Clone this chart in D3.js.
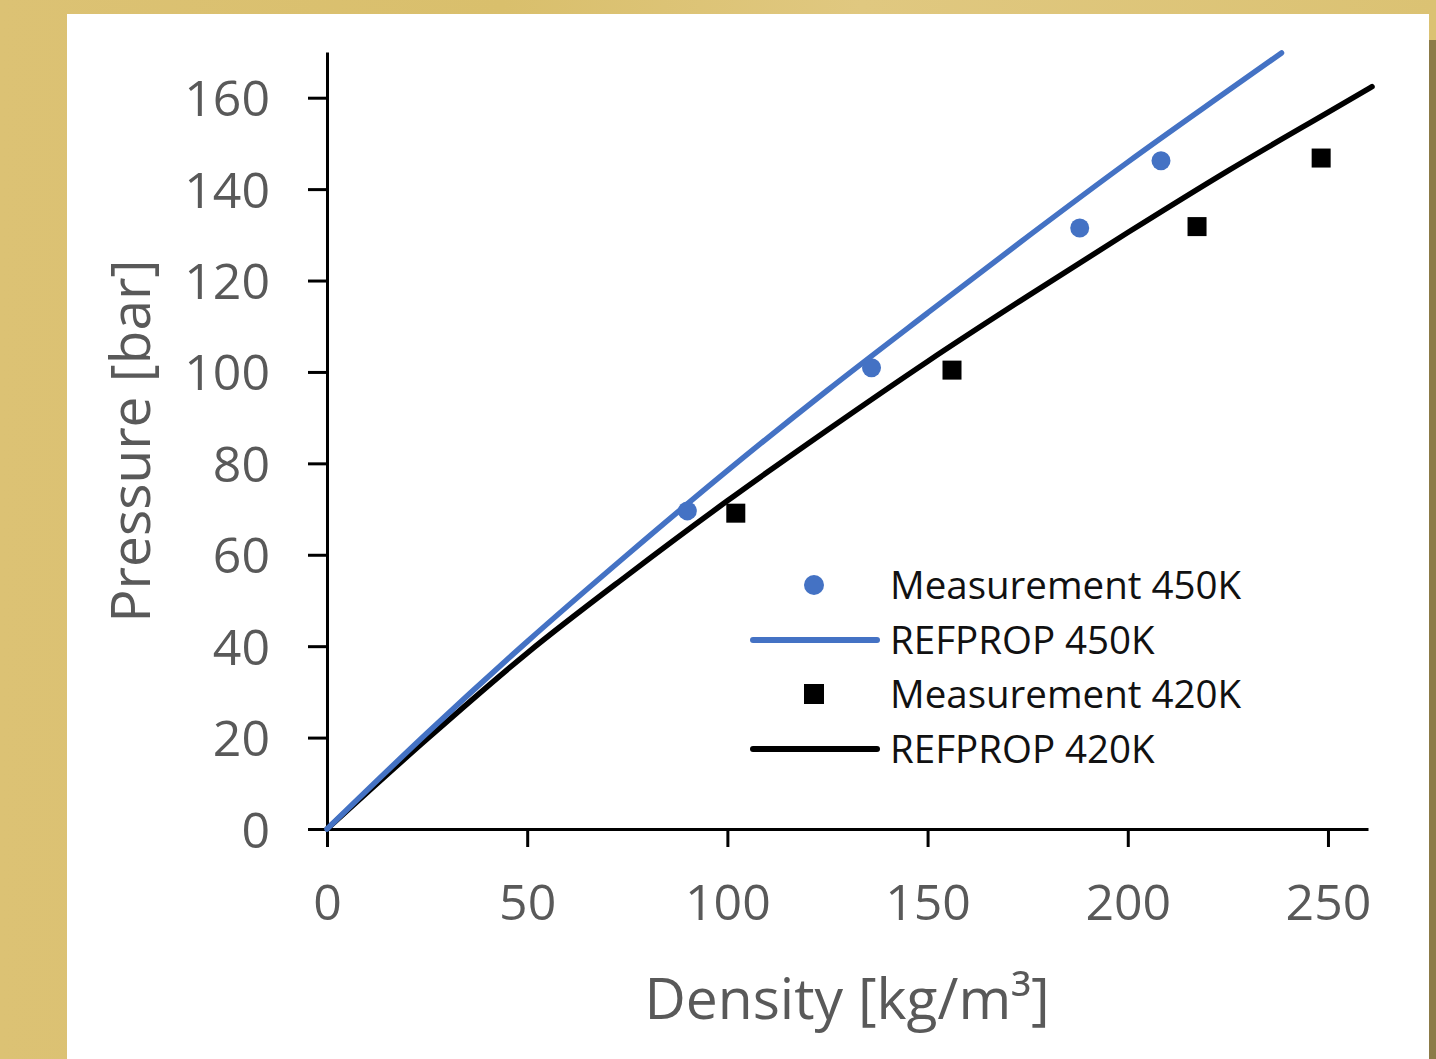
<!DOCTYPE html>
<html>
<head>
<meta charset="utf-8">
<script src="https://cdn.jsdelivr.net/npm/d3@7"></script>
<style>
  html, body { margin: 0; padding: 0; background: #fff; }
  svg { display: block; }
  .axis text { font-family: "Open Sans", sans-serif; fill: #595959; }
  .axis path, .axis line { stroke: #000; stroke-width: 3; }
</style>
</head>
<body>
<svg id="chart"></svg>
<script>
var meas450Density = [90, 136, 188, 208.3];
var meas450Pressure = [69.6, 100.9, 131.5, 146.2];
var meas420Density = [102.1, 156.1, 217.3, 248.3];
var meas420Pressure = [69.1, 100.4, 131.8, 146.8];

// REFPROP curves
var ref450Density = [0, 25, 50, 75, 100, 125, 150, 175, 200, 225, 238.4];
var ref450Pressure = [0, 21.0, 41.0, 60.0, 78.4, 96.0, 112.9, 129.6, 145.9, 161.5, 169.8];
var ref420Density = [0, 25, 50, 75, 100, 125, 150, 175, 200, 225, 250, 261];
var ref420Pressure = [0, 19.7, 38.5, 55.5, 71.8, 87.3, 102.3, 116.6, 130.5, 144.0, 156.8, 162.4];

var xTicks = [0, 50, 100, 150, 200, 250];
var yTicks = [0, 20, 40, 60, 80, 100, 120, 140, 160];
var legendLabels = ["Measurement 450K", "REFPROP 450K", "Measurement 420K", "REFPROP 420K"];

var width = 1436, height = 1059;
var blue = "#4472C4";

var svg = d3.select("#chart").attr("width", width).attr("height", height);

// gold frame
var defs = svg.append("defs");
var grad = defs.append("linearGradient").attr("id", "gold").attr("x1", 0).attr("x2", 1).attr("y1", 0).attr("y2", 0);
grad.append("stop").attr("offset", "0%").attr("stop-color", "#dcc274");
grad.append("stop").attr("offset", "35%").attr("stop-color", "#d9bf6c");
grad.append("stop").attr("offset", "60%").attr("stop-color", "#e0c880");
grad.append("stop").attr("offset", "100%").attr("stop-color", "#dbc273");
svg.append("rect").attr("width", width).attr("height", height).attr("fill", "url(#gold)");
svg.append("rect").attr("x", 1429).attr("y", 40).attr("width", 7).attr("height", height - 40).attr("fill", "#8c7b48");
svg.append("rect").attr("x", 67).attr("y", 14).attr("width", 1362).attr("height", height - 14).attr("fill", "#fff");

var x = d3.scaleLinear().domain([0, 260]).range([327, 1368]);
var y = d3.scaleLinear().domain([0, 170]).range([829, 52]);

var xAxis = d3.axisBottom(x).tickValues(xTicks).tickSize(18).tickSizeOuter(0).tickPadding(37);
var yAxis = d3.axisLeft(y).tickValues(yTicks).tickSize(19).tickSizeOuter(0).tickPadding(38);

svg.append("g")
    .attr("class", "axis x")
    .attr("transform", "translate(0," + y(0) + ")")
    .call(xAxis)
    .selectAll("text").style("font-size", "50px");

svg.append("g")
    .attr("class", "axis y")
    .attr("transform", "translate(" + x(0) + ",0)")
    .call(yAxis)
    .selectAll("text").style("font-size", "50px").attr("dy", "0.36em");

var line = d3.line()
    .x(function (d) { return x(d[0]); })
    .y(function (d) { return y(d[1]); })
    .curve(d3.curveMonotoneX);

svg.append("path")
    .attr("d", line(d3.zip(ref420Density, ref420Pressure)))
    .attr("fill", "none").attr("stroke", "#000").attr("stroke-width", 5.5).attr("stroke-linecap", "round");

svg.append("path")
    .attr("d", line(d3.zip(ref450Density, ref450Pressure)))
    .attr("fill", "none").attr("stroke", blue).attr("stroke-width", 5.5).attr("stroke-linecap", "round");

svg.append("g").selectAll("circle")
    .data(d3.zip(meas450Density, meas450Pressure))
    .join("circle")
    .attr("cx", function (d) { return x(d[0]); })
    .attr("cy", function (d) { return y(d[1]); })
    .attr("r", 9.5)
    .attr("fill", blue);

svg.append("g").selectAll("rect")
    .data(d3.zip(meas420Density, meas420Pressure))
    .join("rect")
    .attr("x", function (d) { return x(d[0]) - 9.5; })
    .attr("y", function (d) { return y(d[1]) - 9.5; })
    .attr("width", 19).attr("height", 19)
    .attr("fill", "#000");

// axis titles
svg.append("text")
    .attr("x", 847).attr("y", 1019)
    .attr("text-anchor", "middle")
    .style("font-family", "'Open Sans', sans-serif").style("font-size", "57px").style("fill", "#595959")
    .text("Density [kg/m³]");

svg.append("text")
    .attr("transform", "translate(150,441) rotate(-90)")
    .attr("text-anchor", "middle")
    .style("font-family", "'Open Sans', sans-serif").style("font-size", "55px").style("fill", "#595959")
    .text("Pressure [bar]");

// legend
var legend = svg.append("g").attr("class", "legend");
var rowY = [585, 640, 694, 749];
legendLabels.forEach(function (label, i) {
    var g = legend.append("g").attr("transform", "translate(0," + rowY[i] + ")");
    if (i === 0) {
        g.append("circle").attr("cx", 814).attr("cy", 0).attr("r", 10).attr("fill", blue);
    } else if (i === 2) {
        g.append("rect").attr("x", 804).attr("y", -10).attr("width", 20).attr("height", 20).attr("fill", "#000");
    } else {
        g.append("line").attr("x1", 753).attr("x2", 877).attr("y1", 0).attr("y2", 0)
            .attr("stroke", i === 1 ? blue : "#000").attr("stroke-width", 6).attr("stroke-linecap", "round");
    }
    g.append("text")
        .attr("x", 890).attr("y", 0).attr("dy", "0.36em")
        .style("font-family", "'Open Sans', sans-serif").style("font-size", "38.5px").style("fill", "#111")
        .text(label);
});
</script>
</body>
</html>
